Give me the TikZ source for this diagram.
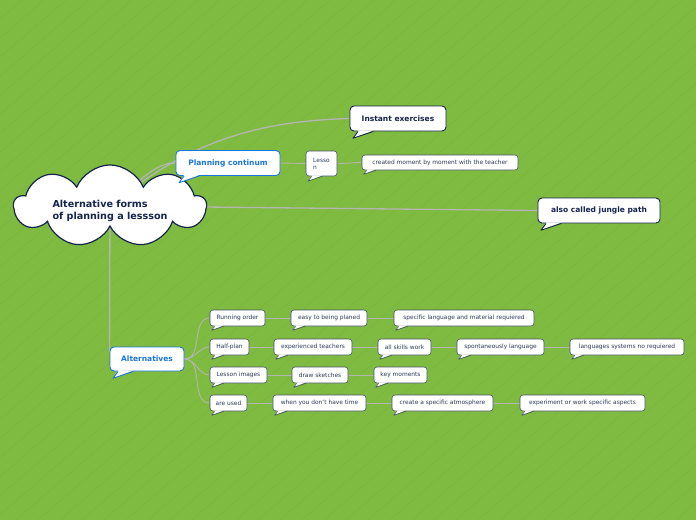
\documentclass[tikz,border=0pt]{standalone}
\usepackage{fontspec}
\setmainfont{DejaVu Sans}
\usetikzlibrary{calc,shapes.symbols,backgrounds}
\definecolor{mapgreen}{RGB}{127,186,65}
\definecolor{mapstripe}{RGB}{121,180,61}
\definecolor{mapnavy}{RGB}{20,36,78}
\definecolor{mapblue}{RGB}{28,118,222}
\definecolor{mapgrey}{RGB}{180,182,178}
\definecolor{mapbox}{RGB}{70,84,104}
\definecolor{maptext}{RGB}{44,58,88}
\newcommand{\tail}[3]{%
  \fill[white] ($(#1.south west)+(5*#3,-1)$) -- ($(#1.south west)+(2*#3,4*#3)$)
    -- ($(#1.south west)+(14*#3,-1)$) -- cycle;
  \draw[#2,line join=round] ($(#1.south west)+(5*#3,0)$)
    -- ($(#1.south west)+(2*#3,4*#3)$) -- ($(#1.south west)+(14*#3,0)$);}

\begin{document}
\begin{tikzpicture}[x=1pt,y=-1pt,
  sb/.style={draw=mapbox,fill=white,rounded corners=3pt,line width=0.6pt,
    minimum height=16pt,inner sep=1pt,text=maptext,
    font=\fontsize{5.9}{7}\selectfont},
  bb/.style={draw=mapnavy,fill=white,rounded corners=4pt,line width=0.9pt,
    minimum height=25pt,inner sep=1pt,text=mapnavy,
    font=\fontsize{7.5}{9}\bfseries\selectfont},
  bl/.style={bb,draw=mapblue,text=mapblue},
  root/.style={cloud,cloud puffs=9,cloud puff arc=135,aspect=3.4,
    draw=mapnavy,line width=1.2pt,fill=white,minimum width=192pt,
    minimum height=72pt,inner sep=0pt,text height=3pt,text depth=0pt,
    text=mapnavy,font=\fontsize{9.6}{11.5}\bfseries\selectfont},
  ln/.style={mapgrey,line width=1.3pt},
  lt/.style={mapgrey,line width=0.9pt}]
\useasboundingbox (0,0) rectangle (696,520);
\node[root] (root) at (110,206) {\raisebox{-6pt}{\begin{tabular}{@{}l@{}}Alternative forms\\of planning a lessson\end{tabular}}};
\node[bl,minimum width=104pt] (plan) at (228,163) {Planning continum};
\node[bb,minimum width=96pt] (instant) at (398,118.5) {Instant exercises};
\node[sb,minimum width=31pt,minimum height=25pt,align=left] (lesso) at (321.5,163.5) {Lesso\\n};
\node[sb,minimum width=156pt,minimum height=15pt] (created) at (440,162.5) {created moment by moment with the teacher};
\node[bb,minimum width=122pt] (jungle) at (599,210.5) {also called jungle path};
\node[bl,minimum width=74pt,minimum height=24pt] (alt) at (147,359) {Alternatives};
\node[sb,minimum width=55pt] (running) at (237.5,318) {Running order};
\node[sb,minimum width=76pt] (easy) at (329,318) {easy to being planed};
\node[sb,minimum width=140pt] (specific) at (464,318) {specific language and material requiered};
\node[sb,minimum width=39pt] (half) at (229.5,347) {Half-plan};
\node[sb,minimum width=78pt] (exper) at (313,347) {experienced teachers};
\node[sb,minimum width=53pt] (skills) at (404.5,347) {all skills work};
\node[sb,minimum width=87pt] (spont) at (500.5,347) {spontaneously language};
\node[sb,minimum width=114pt] (systems) at (627,347) {languages systems no requiered};
\node[sb,minimum width=57pt] (images) at (238.5,375) {Lesson images};
\node[sb,minimum width=56pt] (sketches) at (320,375) {draw sketches};
\node[sb,minimum width=53pt] (moments) at (400.5,375) {key moments};
\node[sb,minimum width=37pt] (used) at (228.5,403) {are used};
\node[sb,minimum width=93pt] (notime) at (319.5,403) {when you don't have time};
\node[sb,minimum width=101pt] (atmos) at (442.5,403) {create a specific atmosphere};
\node[sb,minimum width=125pt] (aspects) at (582.5,403) {experiment or work specific aspects};
\tail{plan}{mapblue,line width=0.9pt}{1.7}
\tail{instant}{mapnavy,line width=0.9pt}{1.7}
\tail{jungle}{mapnavy,line width=0.9pt}{1.7}
\tail{alt}{mapblue,line width=0.9pt}{1.7}
\tail{lesso}{mapbox,line width=0.6pt}{1.2}
\foreach \n in {created,running,easy,specific,half,exper,skills,spont,systems,
  images,sketches,moments,used,notime,atmos,aspects}
  {\tail{\n}{mapbox,line width=0.6pt}{1}}
\begin{scope}[on background layer]
\fill[mapgreen] (0,0) rectangle (696,520);
\begin{scope}
\clip (0,0) rectangle (696,520);
\foreach \k in {-600,-578,...,700} {\draw[mapstripe,line width=0.4pt] (\k,520) -- (\k+600,0);}
\end{scope}
\draw[ln] (root.center) .. controls (190,140) and (260,121) .. (instant.west);
\draw[ln] (root.center) .. controls (150,170) and (160,163) .. (plan.west);
\draw[ln] (root.center) -- (jungle.west);
\draw[ln] (root.center) -- ($(alt.north west)+(0,6)$);
\draw[lt] (plan.east) -- (lesso.west);
\draw[lt] (lesso.east) to[out=0,in=180] (created.west);
\foreach \c in {running,half,images,used}
  {\draw[lt] (alt.east) to[out=0,in=180] (\c.west);}
\draw[lt] (running) -- (easy); \draw[lt] (easy) -- (specific);
\draw[lt] (half) -- (exper); \draw[lt] (exper) -- (skills);
\draw[lt] (skills) -- (spont); \draw[lt] (spont) -- (systems);
\draw[lt] (images) -- (sketches); \draw[lt] (sketches) -- (moments);
\draw[lt] (used) -- (notime); \draw[lt] (notime) -- (atmos);
\draw[lt] (atmos) -- (aspects);
\end{scope}
\end{tikzpicture}
\end{document}
